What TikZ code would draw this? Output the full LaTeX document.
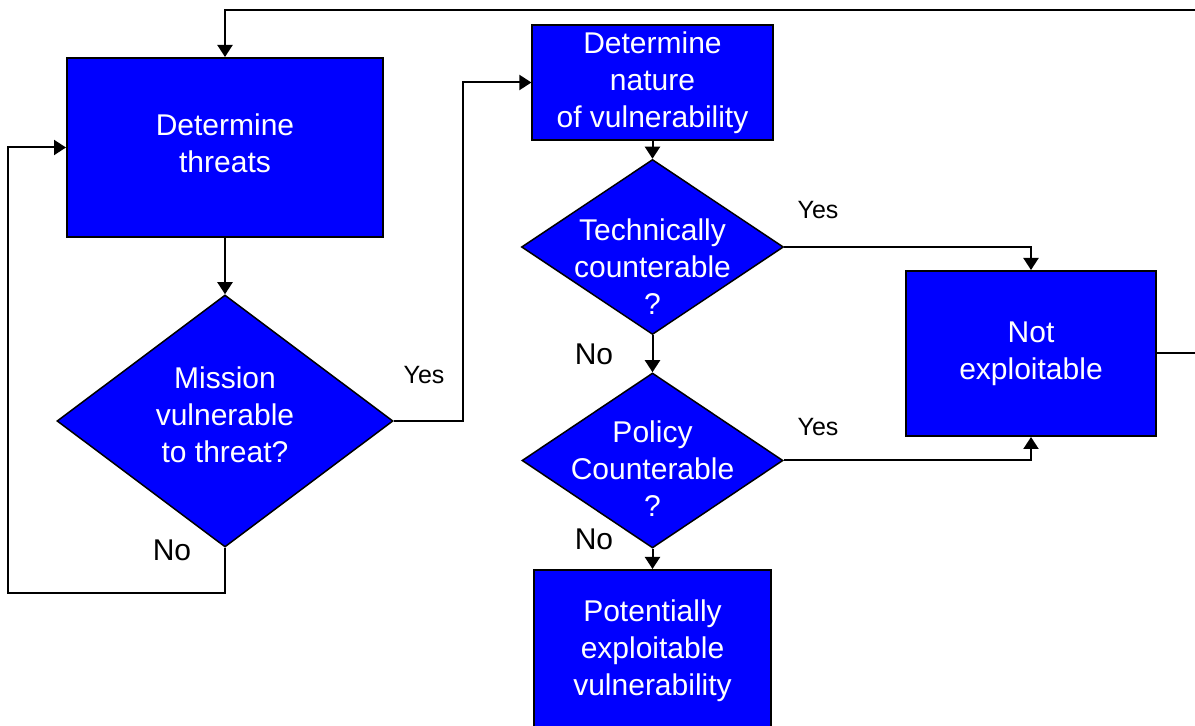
\documentclass[tikz,border=0pt]{standalone}
\usepackage{fontspec}
\setmainfont{Liberation Sans}
\usepackage{tikz}
\usetikzlibrary{shapes.geometric,arrows.meta}
\definecolor{boxblue}{RGB}{0,0,255}

\begin{document}
\begin{tikzpicture}[x=0.5pt,y=-0.5pt,
    block/.style={draw, line width=1pt, fill=boxblue, text=white, align=center,
        inner sep=0pt, font=\fontsize{15}{18.5}\selectfont},
    decision/.style={draw, line width=0.75pt, fill=boxblue, diamond, inner sep=0pt},
    dtext/.style={text=white, align=center, font=\fontsize{15}{18.5}\selectfont},
    yes/.style={font=\fontsize{12.5}{15}\selectfont},
    no/.style={font=\fontsize{15}{18}\selectfont},
    arr/.style={line width=1pt, -{Triangle[length=6pt,width=7.5pt]}}]
    \clip (0,0) rectangle (1195,726);

    \path
    node[block, minimum width=158pt, minimum height=89.5pt, text depth=4pt] (threats) at (225,147.5) {Determine\\threats}
    node[decision, minimum width=168pt, minimum height=126pt,
        label={[dtext, yshift=3pt]center:Mission\\vulnerable\\to threat?}] (mission) at (225,421) {}
    node[block, line width=0.6pt, minimum width=120.5pt, minimum height=57.5pt] (nature) at (652.5,82.5) {Determine\\nature\\of vulnerability}
    node[decision, minimum width=131pt, minimum height=87.5pt,
        label={[dtext, yshift=-10pt]center:Technically\\counterable\\?}] (tech) at (652.5,247) {}
    node[decision, minimum width=130.5pt, minimum height=87.5pt,
        label={[dtext, yshift=-4pt]center:Policy\\Counterable\\?}] (policy) at (652.5,460.5) {}
    node[block, minimum width=118.5pt, minimum height=81pt] (potential) at (652.5,651) {Potentially\\exploitable\\vulnerability}
    node[block, minimum width=125pt, minimum height=82.5pt] (notexp) at (1031,353.5) {Not\\exploitable};

    \path
    node[yes] (yesmission) at (424,375) {Yes}
    node[yes] (yestech) at (818,210) {Yes}
    node[yes] (yespolicy) at (818,427) {Yes}
    node[no] (nomission) at (172,550) {No}
    node[no] (notech) at (594,354) {No}
    node[no] (nopolicy) at (594,539) {No};

    \coordinate (bendyes) at (463,421);
    \coordinate (loopno) at (8,593);
    \coordinate (farright) at (1230,10);

    \draw[arr] (threats.south) -- (mission.north);
    \draw[arr] (mission.east) -- (bendyes) |- (nature.west);
    \draw[arr] (mission.south) |- (loopno) |- (threats.west);
    \draw[arr] (nature.south) -- (tech.north);
    \draw[arr] (tech.east) -| (notexp.north);
    \draw[arr] (tech.south) -- (policy.north);
    \draw[arr] (policy.east) -| (notexp.south);
    \draw[arr] (policy.south) -- (potential.north);
    \draw[arr] (notexp.east) -| (farright) -| (threats.north);
\end{tikzpicture}
\end{document}
